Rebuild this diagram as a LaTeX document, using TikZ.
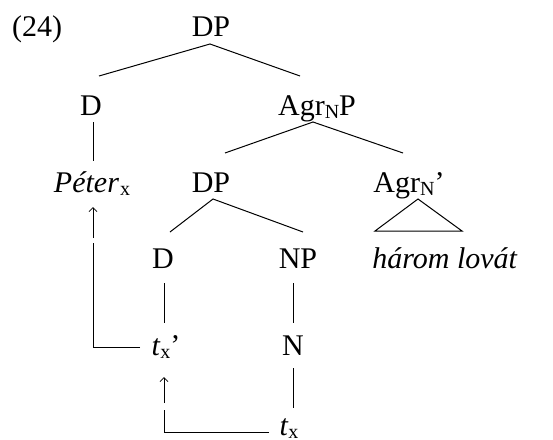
\documentclass[tikz,border=0pt]{standalone}
\usepackage{fontspec}
\setmainfont{Liberation Serif}
\usetikzlibrary{arrows.meta}
\newcommand\subx[1]{\raisebox{-3pt}{\fontsize{20}{20}\selectfont #1}}
\begin{document}
\begin{tikzpicture}[x=1pt,y=-1pt,
  lab/.style={anchor=base,inner sep=0pt,font=\fontsize{30}{36}\selectfont},
  edge/.style={line width=1pt},
  mv/.style={line width=1pt},
  mvtip/.style={line width=0.8pt,-{Straight Barb[length=4pt,width=8pt]}}]
\useasboundingbox (0,0) rectangle (553,439);
% nodes
\node[lab] (ex)   at (37,36)  {(24)};
\node[lab] (top)  at (211,36) {DP};
\node[lab] (D1)   at (91,115) {D};
\node[lab] (agrp) at (317,115) {Agr\subx{N}P};
\node[lab] (peter) at (92,192) {\textit{Péter}\kern1pt\subx{x}};
\node[lab] (DP2)  at (211,192) {DP};
\node[lab] (agrb) at (409,192) {Agr\subx{N}’};
\node[lab] (D2)   at (163,268) {D};
\node[lab] (NP)   at (298,268) {NP};
\node[lab] (harom) at (445,268) {\textit{három lovát}};
\node[lab] (txp)  at (166,355) {\textit{t}\subx{x}’};
\node[lab] (N)    at (293,355) {N};
\node[lab] (tx)   at (289,435) {\textit{t}\subx{x}};
% tree edges
\draw[edge] ([shift={(8,-39)}]D1.base) -- ([shift={(-1,8)}]top.base) -- ([shift={(-17,-39)}]agrp.base);
\draw[edge] ([shift={(2,7)}]D1.base) -- ([shift={(1,-31)}]peter.base);
\draw[edge] ([shift={(14,-39)}]DP2.base) -- ([shift={(-4,7)}]agrp.base) -- ([shift={(-6,-39)}]agrb.base);
\draw[edge] ([shift={(7,-36)}]D2.base) -- ([shift={(2,7)}]DP2.base) -- ([shift={(5,-36)}]NP.base);
\draw[edge] ([shift={(-70,-37)}]harom.base) -- ([shift={(9,7)}]agrb.base) -- ([shift={(17,-37)}]harom.base) -- cycle;
\draw[edge] ([shift={(1,15)}]D2.base) -- ([shift={(-2,-32)}]txp.base);
\draw[edge] ([shift={(-5,15)}]NP.base) -- ([shift={(0,-32)}]N.base);
\draw[edge] ([shift={(0,13)}]N.base) -- ([shift={(4,-27)}]tx.base);
% movement arrows
\coordinate (m1) at ([shift={(1,51)}]peter.base);
\draw[mv] ([shift={(-26,-8)}]txp.base) -| (m1);
\draw[mvtip] ([shift={(0,-5)}]m1) -- ([shift={(1,15)}]peter.base);
\coordinate (m2) at ([shift={(-2,55)}]txp.base);
\draw[mv] ([shift={(-20,-3)}]tx.base) -| (m2);
\draw[mvtip] ([shift={(0,-7)}]m2) -- ([shift={(-2,22)}]txp.base);
\end{tikzpicture}
\end{document}
